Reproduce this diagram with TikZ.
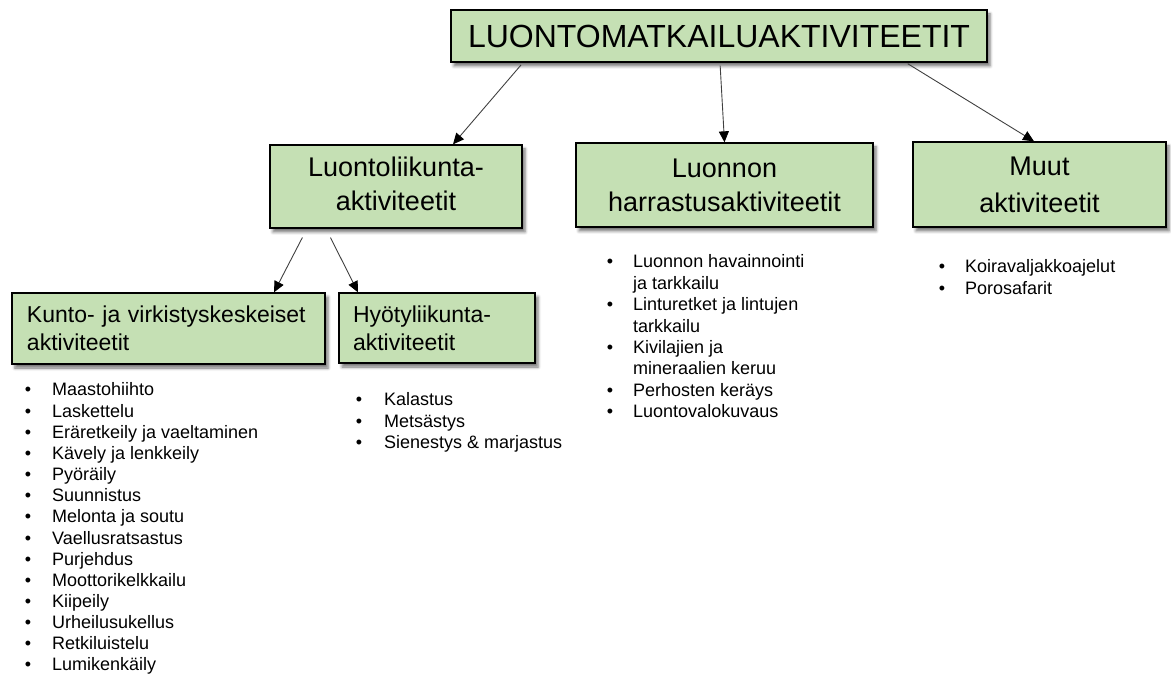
\documentclass[tikz,border=0pt]{standalone}
\usepackage{fontspec}
\setmainfont{Liberation Sans}
\usetikzlibrary{arrows.meta,shadows.blur}
\definecolor{boxgreen}{HTML}{C5E0B4}
\begin{document}
\begin{tikzpicture}[x=1pt,y=-1pt,
  box/.style={draw=black, line width=1.3pt, fill=boxgreen, inner sep=0pt,
    blur shadow={shadow xshift=3pt, shadow yshift=-4pt, shadow blur radius=3pt, shadow opacity=55}},
  conn/.style={draw=black!75, line width=0.9pt, -{Triangle[length=11pt,width=10pt,color=black]}},
  item/.style={font=\fontsize{18}{21}\selectfont, inner sep=0pt, anchor=base west},
  bul/.style={font=\fontsize{18}{21}\selectfont, inner sep=0pt, anchor=base}]
\useasboundingbox (0,0) rectangle (1171,684);

% boxes
\node[box, minimum width=536pt, minimum height=52pt, font=\fontsize{32}{38}\selectfont] (top) at (719,36) {LUONTOMATKAILUAKTIVITEETIT};
\node[box, minimum width=252pt, minimum height=83pt, font=\fontsize{27}{34}\selectfont] (lk) at (396,186.5) {\raisebox{5pt}{\begin{tabular}{@{}c@{}}Luontoliikunta-\\aktiviteetit\end{tabular}}};
\node[box, minimum width=297pt, minimum height=84pt, align=center, font=\fontsize{27}{34}\selectfont] (lh) at (724.5,185) {Luonnon\\harrastusaktiviteetit};
\node[box, minimum width=253pt, minimum height=85pt, align=center, font=\fontsize{27}{37}\selectfont] (mu) at (1039.5,184.5) {Muut\\aktiviteetit};
\node[box, minimum width=313pt, minimum height=71pt, text width=283pt, inner xsep=15pt, align=left, font=\fontsize{23}{28}\selectfont] (ku) at (168.5,328.5) {Kunto- ja virkistyskeskeiset\\aktiviteetit};
\node[box, minimum width=196pt, minimum height=70pt, text width=168pt, inner xsep=14pt, align=left, font=\fontsize{23}{28}\selectfont] (hy) at (437,328) {Hyötyliikunta-\\aktiviteetit};

% connectors
\draw[conn, shorten <=3pt] ([xshift=-196pt]top.south) -- ([xshift=57pt]lk.north);
\draw[conn, shorten <=3pt] ([xshift=1pt]top.south) -- (lh.north);
\draw[conn, shorten <=2pt] ([xshift=187pt]top.south) -- ([xshift=-5.5pt]mu.north);
\draw[conn, shorten <=10pt] ([xshift=-89pt]lk.south) -- ([xshift=105.5pt]ku.north);
\draw[conn, shorten <=10pt] ([xshift=-70pt]lk.south) -- ([xshift=-79pt]hy.north);

% Kunto list
\foreach \t [count=\i] in {Maastohiihto, Laskettelu, Eräretkeily ja vaeltaminen, Kävely ja lenkkeily, Pyöräily, Suunnistus, Melonta ja soutu, Vaellusratsastus, Purjehdus, Moottorikelkkailu, Kiipeily, Urheilusukellus, Retkiluistelu, Lumikenkäily} {
  \node[item] (kt\i) at (52,{396+(\i-1)*21.15}) {\t};
  \node[bul] (kb\i) at (28,{396+(\i-1)*21.15}) {•};
}

% Hyoty list
\foreach \t [count=\i] in {Kalastus, Metsästys, {Sienestys \& marjastus}} {
  \node[item] (ht\i) at (384,{406+(\i-1)*21.5}) {\t};
  \node[bul] (hb\i) at (359,{406+(\i-1)*21.5}) {•};
}

% Luonnon list
\foreach \b/\t [count=\i] in {1/Luonnon havainnointi, 0/ja tarkkailu, 1/Linturetket ja lintujen, 0/tarkkailu, 1/Kivilajien ja, 0/mineraalien keruu, 1/Perhosten keräys, 1/Luontovalokuvaus} {
  \node[item] (lt\i) at (633,{268+(\i-1)*21.4}) {\t};
  \ifnum\b=1
    \node[bul] (lb\i) at (610,{268+(\i-1)*21.4}) {•};
  \fi
}

% Muut list
\foreach \t [count=\i] in {Koiravaljakkoajelut, Porosafarit} {
  \node[item] (mt\i) at (965,{273+(\i-1)*21.4}) {\t};
  \node[bul] (mb\i) at (942,{273+(\i-1)*21.4}) {•};
}
\end{tikzpicture}
\end{document}
